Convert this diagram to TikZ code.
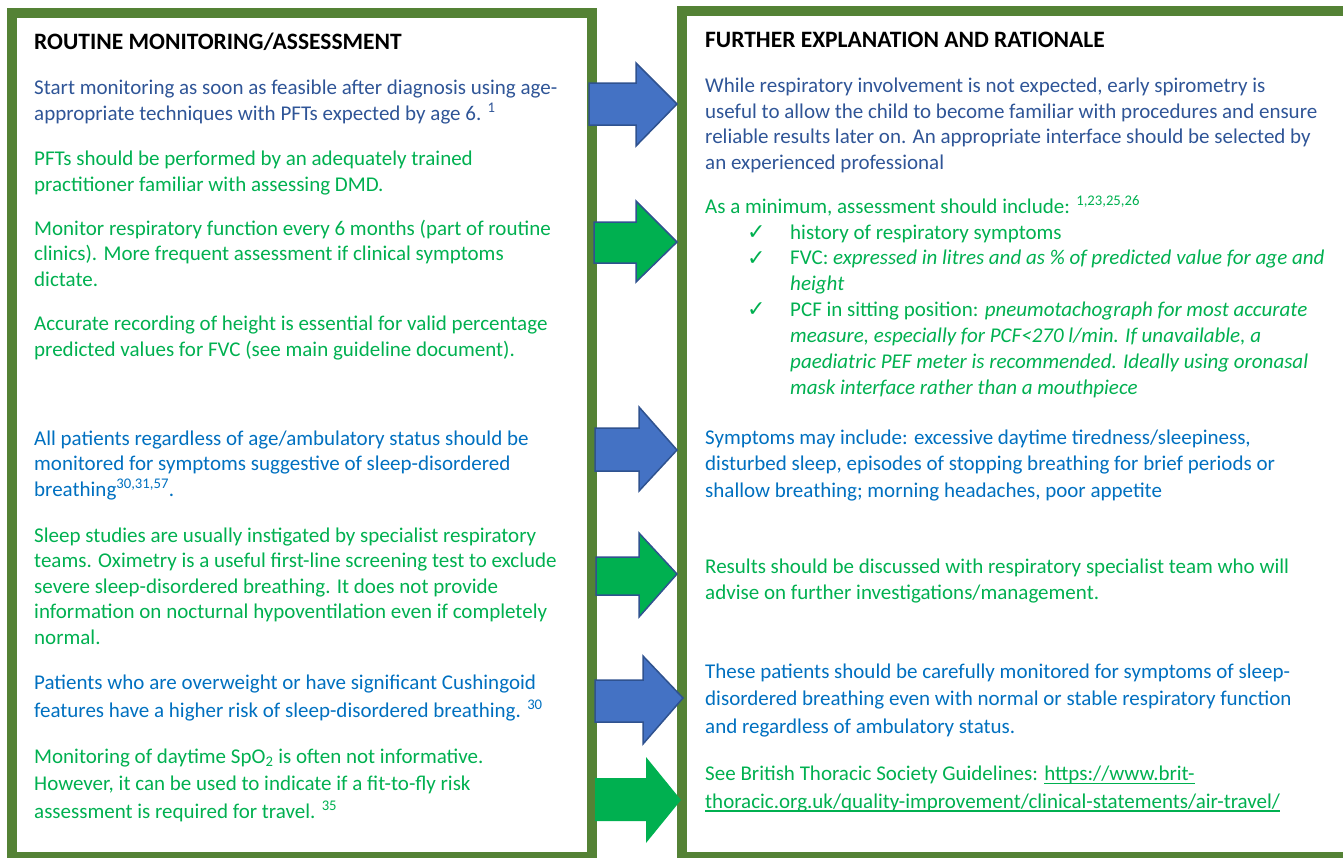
\documentclass[tikz,border=0pt]{standalone}
\usepackage{fontspec}
\setmainfont{Carlito}
\newfontfamily\ticksym{DejaVu Sans}
\newcommand\linkline[1]{\setbox0\hbox{#1}\rlap{\rule[-3.5pt]{\wd0}{1.3pt}}\box0}
\definecolor{boxgreen}{HTML}{548235}
\definecolor{arrowblue}{HTML}{4472C4}
\definecolor{arrowgreen}{HTML}{00B050}
\definecolor{edgeblue}{HTML}{2F528F}
\definecolor{darkblue}{HTML}{2F5597}
\definecolor{lightblue}{HTML}{0070C0}
\definecolor{textgreen}{HTML}{00B050}

\begin{document}
\begin{tikzpicture}[x=1pt, y=-1pt,
		panel/.style={draw=boxgreen, line width=10pt},
		bluearrow/.style={fill=arrowblue, draw=edgeblue, line width=1.5pt, line join=miter},
		greenarrow/.style={fill=arrowgreen, draw=edgeblue, line width=1.5pt, line join=miter},
		para/.style={anchor=base west, align=left, inner sep=0pt, font=\fontsize{21}{25.5}\selectfont},
		loose/.style={font=\fontsize{21}{27.3}\selectfont},
		heading/.style={anchor=base west, inner sep=0pt, font=\fontsize{23.5}{27}\selectfont\bfseries},
		tick/.style={anchor=base west, inner sep=0pt, text=textgreen, font=\fontsize{22}{25.5}\ticksym}]
		\useasboundingbox (0,0) rectangle (1343,857);
		
		% the two panels
		\draw [panel] (12,12.5) rectangle (591.5,857);
		\draw [panel] (682,10.5) rectangle (1350,857);
		
		% arrows from left to right
		\draw [bluearrow] (589,83) -- (636,83) -- (636,63) -- (677,104) -- (636,146) -- (636,125) -- (589,125) -- cycle;
		\draw [greenarrow] (594,222) -- (636,222) -- (636,201) -- (677,242) -- (636,282) -- (636,263) -- (594,263) -- cycle;
		\draw [bluearrow] (595,428) -- (639,428) -- (639,407) -- (677,450) -- (639,491) -- (639,471) -- (595,471) -- cycle;
		\draw [greenarrow] (596,557) -- (639,557) -- (639,533) -- (677,574) -- (639,617) -- (639,595) -- (596,595) -- cycle;
		\draw [bluearrow] (595,680) -- (643,680) -- (643,656) -- (683,698) -- (643,744) -- (643,722) -- (595,722) -- cycle;
		\draw [greenarrow, draw=none] (595,778) -- (646,778) -- (646,757) -- (681,800) -- (646,843) -- (646,821) -- (595,821) -- cycle;
		
		% left panel (nodes sit on the baseline of their last line)
		\node [heading] (lhead) at (34,49) {ROUTINE MONITORING/ASSESSMENT};
		\node [para, text=darkblue] (start) at (34,120) {Start monitoring as soon as feasible after diagnosis using age-\\appropriate techniques with PFTs expected by age 6. \textsuperscript{1}};
		\node [para, text=textgreen] (trained) at (34,191) {PFTs should be performed by an adequately trained\\practitioner familiar with assessing DMD.};
		\node [para, text=textgreen] (sixmonth) at (34,286) {Monitor respiratory function every 6 months (part of routine\\clinics). More frequent assessment if clinical symptoms\\dictate.};
		\node [para, text=textgreen] (height) at (34,356) {Accurate recording of height is essential for valid percentage\\predicted values for FVC (see main guideline document).};
		\node [para, text=lightblue] (allpat) at (34,496) {All patients regardless of age/ambulatory status should be\\monitored for symptoms suggestive of sleep-disordered\\breathing\textsuperscript{30,31,57}.};
		\node [para, text=textgreen] (sleep) at (34,644) {Sleep studies are usually instigated by specialist respiratory\\teams. Oximetry is a useful first-line screening test to exclude\\severe sleep-disordered breathing. It does not provide\\information on nocturnal hypoventilation even if completely\\normal.};
		\node [para, loose, text=lightblue] (overwt) at (34,717) {Patients who are overweight or have significant Cushingoid\\features have a higher risk of sleep-disordered breathing. \textsuperscript{30}};
		\node [para, loose, text=textgreen] (spo) at (34,818) {Monitoring of daytime SpO\textsubscript{2} is often not informative.\\However, it can be used to indicate if a fit-to-fly risk\\assessment is required for travel. \textsuperscript{35}};
		
		% right panel
		\node [heading] (rhead) at (705,47) {FURTHER EXPLANATION AND RATIONALE};
		\node [para, text=darkblue] (spiro) at (705,169) {While respiratory involvement is not expected, early spirometry is\\useful to allow the child to become familiar with procedures and ensure\\reliable results later on. An appropriate interface should be selected by\\an experienced professional};
		\node [para, text=textgreen] (minimum) at (705,213) {As a minimum, assessment should include: \textsuperscript{1,23,25,26}};
		\node [tick] (t1) at (747,239) {✓};
		\node [para, text=textgreen] (hist) at (790,239) {history of respiratory symptoms};
		\node [tick] (t2) at (747,265) {✓};
		\node [para, text=textgreen] (fvc) at (790,290) {FVC: \textit{expressed in litres and as \% of predicted value for age and}\\\textit{height}};
		\node [tick] (t3) at (747,316) {✓};
		\node [para, text=textgreen, font=\fontsize{21}{26}\selectfont] (pcf) at (790,394) {PCF in sitting position: \textit{pneumotachograph for most accurate}\\\textit{measure, especially for PCF<270 l/min. If unavailable, a}\\\textit{paediatric PEF meter is recommended. Ideally using oronasal}\\\textit{mask interface rather than a mouthpiece}};
		\node [para, text=lightblue, font=\fontsize{21}{26.5}\selectfont] (symp) at (705,497) {Symptoms may include: excessive daytime tiredness/sleepiness,\\disturbed sleep, episodes of stopping breathing for brief periods or\\shallow breathing; morning headaches, poor appetite};
		\node [para, text=textgreen, font=\fontsize{21}{26}\selectfont] (results) at (705,599) {Results should be discussed with respiratory specialist team who will\\advise on further investigations/management.};
		\node [para, loose, text=lightblue] (careful) at (705,733) {These patients should be carefully monitored for symptoms of sleep-\\disordered breathing even with normal or stable respiratory function\\and regardless of ambulatory status.};
		\node [para, loose, text=textgreen] (bts) at (705,808) {See British Thoracic Society Guidelines: \linkline{https://www.brit-}\\\linkline{thoracic.org.uk/quality-improvement/clinical-statements/air-travel/}};
\end{tikzpicture}
\end{document}
